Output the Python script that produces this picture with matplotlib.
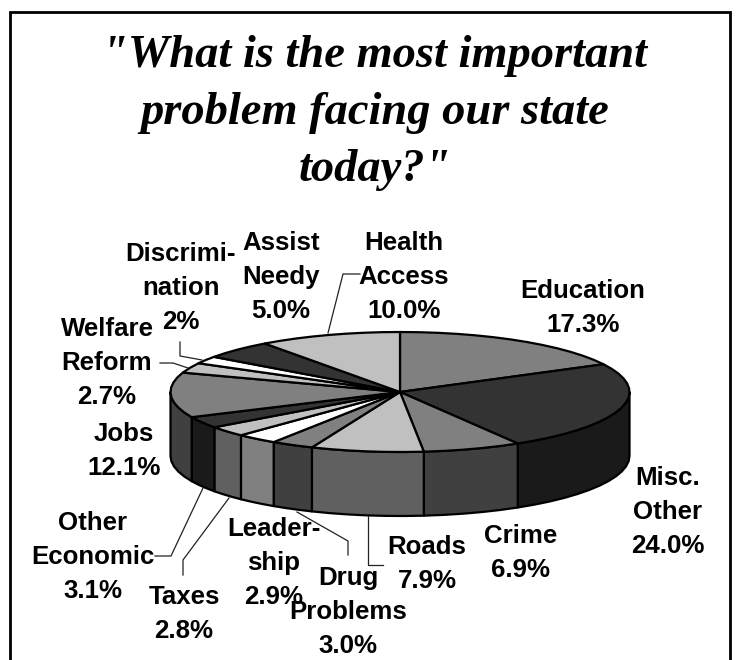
import numpy as np
import matplotlib
matplotlib.use("Agg")
import matplotlib.pyplot as plt

# Survey shares, clockwise from twelve o'clock
categorias = ["Education", "Misc.\nOther", "Crime", "Roads", "Drug\nProblems", "Leader-\nship", "Taxes",
              "Other\nEconomic", "Jobs", "Welfare\nReform", "Discrimi-\nnation", "Assist\nNeedy", "Health\nAccess"]
valores = [17.3, 24.0, 6.9, 7.9, 3.0, 2.9, 2.8, 3.1, 12.1, 2.7, 2.0, 5.0, 10.0]
decimales = [1, 1, 1, 1, 1, 1, 1, 1, 1, 1, 0, 1, 1]

color_arriba = ["#808080", "#333333", "#808080", "#c0c0c0", "#808080", "#ffffff", "#c0c0c0",
                "#333333", "#808080", "#c0c0c0", "#ffffff", "#333333", "#c0c0c0"]
color_lado = ["#404040", "#1a1a1a", "#404040", "#606060", "#404040", "#808080", "#606060",
              "#1a1a1a", "#404040", "#606060", "#808080", "#1a1a1a", "#606060"]

# Centre of each label, in pixels
pos_etiquetas = [(583, 308), (668, 512), (521, 553), (427, 564), (348, 612), (274, 563),
                 (184, 614), (93, 557), (124, 451), (107, 363), (181, 288), (281, 277), (404, 277)]

# Leader lines
lineas = [[(155, 556), (171, 556), (203, 488)],
          [(183, 575), (183, 560), (229, 498)],
          [(348, 555), (348, 541), (297, 512)],
          [(383, 565), (368, 565), (368, 516)],
          [(160, 363), (173, 363), (188, 368)],
          [(180, 342), (180, 356), (202, 360)],
          [(360, 274), (343, 274), (328, 333)]]

cx, cy = 400, 392
a, b = 229.5, 60
prof = 64

def borde(ang):
    # ang in degrees clockwise from the top of the ellipse
    t = np.radians(ang)
    return cx + a*np.sin(t), cy - b*np.cos(t)

def arco(ini, fin):
    n = max(2, int((fin - ini)/5) + 2)
    return borde(np.linspace(ini, fin, n))

fig = plt.figure(figsize=(7.37, 6.6), dpi=100)
ax = fig.add_axes([0, 0, 1, 1])
ax.set_xlim(0, 737)
ax.set_ylim(660, 0)
ax.axis("off")

# Frame, open at the bottom
ax.plot([10, 10, 730, 730], [660, 12, 12, 660], color="black", lw=2.0, solid_joinstyle="miter")

total = sum(valores)
acum = np.cumsum([0] + valores)/total*360

# Side wall, only the front half of the ellipse
for i in range(len(valores)):
    ini, fin = max(acum[i], 90), min(acum[i+1], 270)
    if fin <= ini:
        continue
    x, y = arco(ini, fin)
    xs = np.concatenate([x, x[::-1]])
    ys = np.concatenate([y, y[::-1] + prof])
    ax.fill(xs, ys, facecolor=color_lado[i], edgecolor="black", lw=1.6, joinstyle="round")

# Top faces
for i in range(len(valores)):
    x, y = arco(acum[i], acum[i+1])
    ax.fill(np.r_[cx, x], np.r_[cy, y], facecolor=color_arriba[i], edgecolor="black", lw=1.6, joinstyle="round")

for linea in lineas:
    xs, ys = zip(*linea)
    ax.plot(xs, ys, color="#222222", lw=0.9)

ax.text(375, 113, "\"What is the most important\nproblem facing our state\ntoday?\"", ha="center", va="center",
        family="Liberation Serif", style="italic", weight="bold", fontsize=33.5, linespacing=1.455)

for i in range(len(valores)):
    texto = f"{categorias[i]}\n{valores[i]:.{decimales[i]}f}%"
    ax.text(pos_etiquetas[i][0], pos_etiquetas[i][1], texto, ha="center", va="center", multialignment="center",
            family="Liberation Sans", weight="bold", fontsize=18.6, linespacing=1.53)

plt.savefig("out.png", dpi=100)
